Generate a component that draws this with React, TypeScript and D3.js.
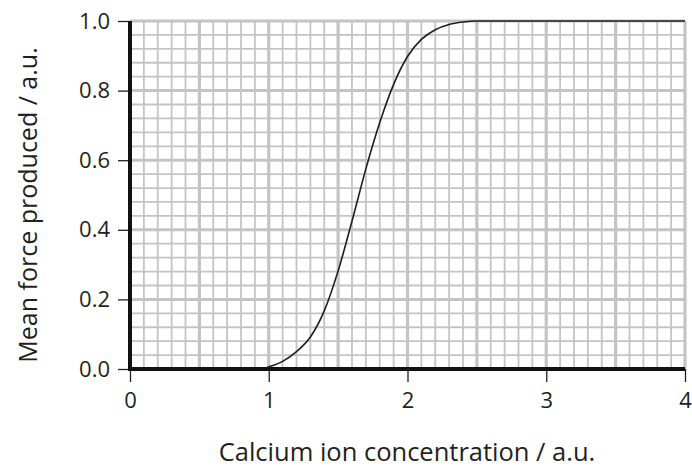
import React, { useEffect, useRef } from 'react';
import * as d3 from 'd3';

// curve
const concentration = [0.95, 1.0, 1.1, 1.2, 1.3, 1.4, 1.5, 1.6, 1.7, 1.8, 1.9, 2.0, 2.1, 2.2, 2.3, 2.4, 2.5, 3.0, 3.5, 4.0];
const force = [0, 0.006, 0.022, 0.05, 0.092, 0.167, 0.282, 0.425, 0.575, 0.708, 0.818, 0.898, 0.947, 0.975, 0.99, 0.997, 1.0, 1.0, 1.0, 1.0];
const xTicks = [0, 1, 2, 3, 4];
const yTicks = [0, 0.2, 0.4, 0.6, 0.8, 1.0];

const W = 692;
const H = 472;
const FONT = '"Open Sans", "Noto Sans", sans-serif';
const INK = '#231f20';

export default function App() {
  const svgRef = useRef<SVGSVGElement>(null);

  useEffect(() => {
    if (!svgRef.current) return;
    const svg = d3.select(svgRef.current);
    svg.selectAll('*').remove();

    const margin = { top: 21, right: 7, bottom: 103, left: 130 };
    const x = d3.scaleLinear().domain([0, 4]).range([margin.left, W - margin.right]);
    const y = d3.scaleLinear().domain([0, 1]).range([H - margin.bottom, margin.top]);

    svg.append('rect').attr('width', W).attr('height', H).attr('fill', '#fff');

    // graph paper: 0.1 x 0.04 cells, heavier lines every 0.5 / 0.2
    const grid = svg.append('g');
    const xMinor = d3.range(0, 41).map(i => i / 10);
    const yMinor = d3.range(0, 26).map(i => i * 0.04);
    grid.selectAll('line.vx')
      .data(xMinor)
      .join('line')
      .attr('x1', d => x(d)).attr('x2', d => x(d))
      .attr('y1', y(0)).attr('y2', y(1))
      .attr('stroke', '#c4c4c4')
      .attr('stroke-width', d => (Math.round(d * 10) % 5 === 0 ? 3.2 : 1.8));
    grid.selectAll('line.hy')
      .data(yMinor)
      .join('line')
      .attr('y1', d => y(d)).attr('y2', d => y(d))
      .attr('x1', x(0)).attr('x2', x(4))
      .attr('stroke', '#c4c4c4')
      .attr('stroke-width', d => (Math.round(d * 100) % 20 === 0 ? 3 : 1.8));

    // curve
    const pts = concentration.map((c, i) => [c, force[i]] as [number, number]);
    svg.append('path')
      .datum(pts)
      .attr('fill', 'none')
      .attr('stroke', '#1e1e1e')
      .attr('stroke-width', 1.6)
      .attr('d', d3.line().x(d => x(d[0])).y(d => y(d[1])).curve(d3.curveMonotoneX));

    // axes
    const yAxis = svg.append('g')
      .attr('transform', `translate(${x(0)},0)`)
      .call(d3.axisLeft(y).tickValues(yTicks).tickFormat(d3.format('.1f')).tickSize(12).tickPadding(8));
    yAxis.select('.domain').remove();
    yAxis.selectAll('line').attr('stroke', INK).attr('stroke-width', 1.3);
    yAxis.selectAll('text').attr('font-family', FONT).attr('font-size', 22).attr('fill', INK);

    const xAxis = svg.append('g')
      .attr('transform', `translate(0,${y(0)})`)
      .call(d3.axisBottom(x).tickValues(xTicks).tickFormat(d3.format('d')).tickSize(13).tickPadding(10));
    xAxis.select('.domain').remove();
    xAxis.selectAll('line').attr('stroke', INK).attr('stroke-width', 1.3);
    xAxis.selectAll('text').attr('font-family', FONT).attr('font-size', 22).attr('fill', INK);

    svg.append('line')
      .attr('x1', x(0)).attr('x2', x(0))
      .attr('y1', y(1)).attr('y2', y(0) + 2)
      .attr('stroke', '#111').attr('stroke-width', 4);
    svg.append('line')
      .attr('x1', x(0) - 2).attr('x2', x(4))
      .attr('y1', y(0)).attr('y2', y(0))
      .attr('stroke', '#111').attr('stroke-width', 4);

    // titles
    svg.append('text')
      .attr('x', 407)
      .attr('y', 461)
      .attr('text-anchor', 'middle')
      .attr('font-family', FONT)
      .attr('font-size', 25.5)
      .attr('fill', INK)
      .text('Calcium ion concentration / a.u.');
    svg.append('text')
      .attr('transform', `translate(37,${(y(0) + y(1)) / 2 + 10}) rotate(-90)`)
      .attr('text-anchor', 'middle')
      .attr('font-family', FONT)
      .attr('font-size', 25)
      .attr('fill', INK)
      .text('Mean force produced / a.u.');
  }, []);

  return (
    <svg ref={svgRef} width={W} height={H}
      style={{ position: 'absolute', left: 0, top: 0, display: 'block' }} />
  );
}
